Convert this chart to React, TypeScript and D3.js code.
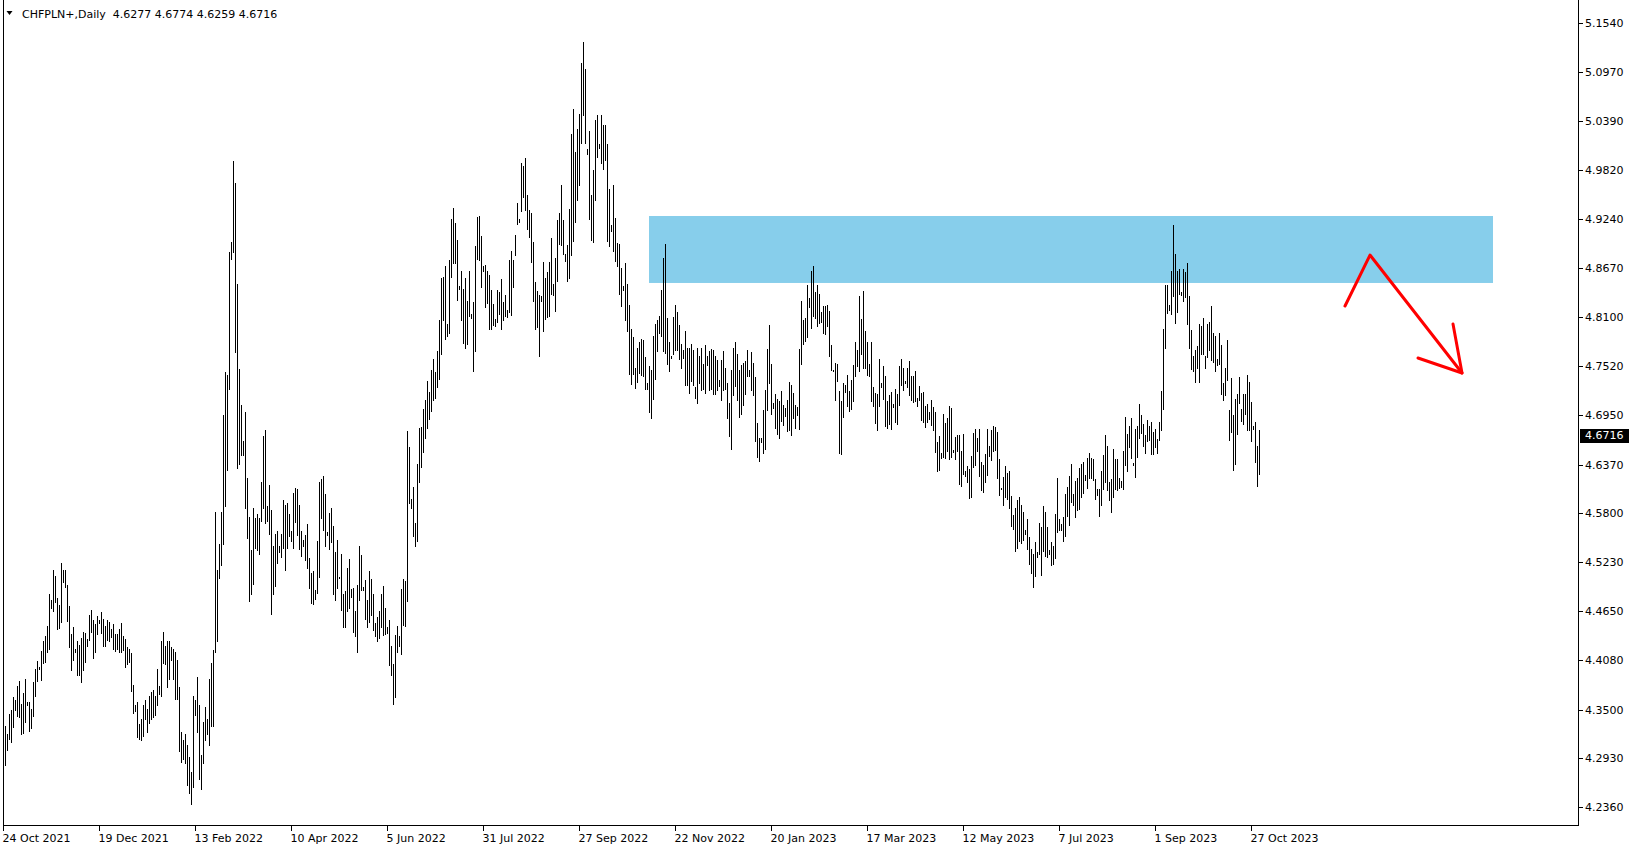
import * as d3 from "d3";

// CHFPLN+ daily bars, Oct 2021 - Nov 2023
const symbol = "CHFPLN+,Daily";
const lastQuote = [4.6277, 4.6774, 4.6259, 4.6716];

const priceTicks = [
  5.154, 5.097, 5.039, 4.982, 4.924, 4.867, 4.81, 4.752, 4.695,
  4.637, 4.58, 4.523, 4.465, 4.408, 4.35, 4.293, 4.236,
];

const dateLabels = [
  "24 Oct 2021", "19 Dec 2021", "13 Feb 2022", "10 Apr 2022", "5 Jun 2022",
  "31 Jul 2022", "27 Sep 2022", "22 Nov 2022", "20 Jan 2023", "17 Mar 2023",
  "12 May 2023", "7 Jul 2023", "1 Sep 2023", "27 Oct 2023",
];
const barsPerLabel = 48;

const highs = [
  4.314,4.331,4.322,4.345,4.350,4.365,4.361,4.378,4.384,4.357,
  4.370,4.386,4.359,4.359,4.351,4.382,4.398,4.407,4.400,4.419,
  4.430,4.436,4.448,4.485,4.478,4.513,4.507,4.481,4.473,4.522,
  4.513,4.513,4.496,4.471,4.439,4.447,4.421,4.430,4.426,4.434,
  4.441,4.440,4.433,4.461,4.467,4.455,4.450,4.460,4.455,4.464,
  4.456,4.448,4.455,4.453,4.444,4.450,4.439,4.439,4.445,4.452,
  4.436,4.433,4.423,4.421,4.416,4.379,4.355,4.359,4.333,4.339,
  4.356,4.361,4.351,4.366,4.371,4.373,4.366,4.398,4.378,4.430,
  4.441,4.425,4.430,4.430,4.423,4.421,4.418,4.408,4.376,4.324,
  4.314,4.321,4.309,4.294,4.277,4.366,4.361,4.388,4.356,4.297,
  4.336,4.353,4.339,4.386,4.405,4.420,4.581,4.514,4.544,4.581,
  4.695,4.745,4.742,4.886,4.898,4.992,4.967,4.848,4.749,4.707,
  4.665,4.698,4.621,4.576,4.537,4.586,4.574,4.579,4.574,4.616,
  4.670,4.678,4.589,4.613,4.584,4.542,4.556,4.559,4.542,4.556,
  4.595,4.590,4.592,4.579,4.559,4.604,4.609,4.608,4.590,4.559,
  4.549,4.555,4.567,4.527,4.510,4.512,4.490,4.548,4.616,4.620,
  4.623,4.602,4.558,4.580,4.586,4.565,4.534,4.549,4.505,4.532,
  4.485,4.489,4.516,4.526,4.491,4.493,4.465,4.496,4.542,4.531,
  4.494,4.502,4.478,4.512,4.503,4.485,4.452,4.458,4.466,4.485,
  4.495,4.469,4.447,4.455,4.425,4.404,4.437,4.448,4.436,4.491,
  4.503,4.501,4.676,4.657,4.597,4.611,4.568,4.638,4.680,4.681,
  4.702,4.712,4.735,4.722,4.748,4.760,4.745,4.770,
  4.806,4.856,4.857,4.869,4.802,4.877,4.925,4.937,4.920,4.900,
  4.846,4.864,4.843,4.856,4.829,4.864,4.813,4.827,4.893,4.927,
  4.928,4.905,4.870,4.871,4.864,4.859,4.841,4.825,4.807,4.841,
  4.839,4.854,4.827,4.835,4.818,4.877,4.887,4.876,4.906,4.943,
  4.925,4.990,4.987,4.996,4.953,4.935,4.932,4.898,4.851,4.840,
  4.835,4.834,4.874,4.856,4.862,4.874,4.902,4.848,4.879,4.923,
  4.931,4.964,4.923,
  4.884,4.894,4.936,5.024,5.053,5.003,5.030,5.047,5.107,5.132,
  5.100,5.006,5.028,4.953,4.982,5.040,5.046,5.012,5.046,5.034,
  5.034,5.012,4.960,4.917,4.964,4.926,4.896,4.895,4.867,4.846,
  4.873,4.848,4.824,4.796,4.786,4.750,4.774,4.781,4.784,4.783,
  4.763,4.732,4.752,4.748,4.787,4.801,4.806,4.811,4.841,4.879,
  4.895,4.808,4.781,4.764,4.810,4.824,4.816,4.800,4.778,4.771,
  4.793,4.773,4.773,4.778,4.771,4.728,4.773,4.764,4.773,4.755,
  4.777,4.764,4.770,4.772,4.771,4.764,4.759,4.736,4.759,4.770,
  4.750,4.732,4.709,4.748,4.773,4.780,4.767,4.748,4.753,4.756,
  4.758,4.771,4.748,4.769,4.756,4.739,4.686,4.668,4.668,4.701,
  4.724,4.772,4.800,4.755,4.709,4.720,4.714,4.711,4.723,4.707,
  4.703,4.713,4.734,4.730,4.721,4.707,4.704,4.772,4.828,4.806,
  4.808,4.847,4.832,4.864,4.869,4.839,4.847,4.837,4.816,4.823,
  4.823,4.824,4.817,4.777,4.748,4.756,4.755,4.723,4.711,4.732,
  4.730,4.742,4.723,4.736,4.754,4.781,4.771,4.834,4.807,4.840,
  4.793,4.780,4.755,4.780,4.728,4.721,4.720,4.761,4.733,4.752,
  4.741,4.711,4.718,4.722,4.708,4.725,4.720,4.752,4.761,4.750,
  4.735,4.750,4.758,4.741,4.741,4.747,4.715,4.729,4.721,4.722,
  4.706,4.708,4.699,4.713,4.704,4.699,4.663,4.670,4.651,4.696,
  4.686,4.692,4.706,4.703,4.654,4.669,4.672,4.672,4.653,4.673,
  4.629,4.635,4.632,4.647,4.674,4.679,4.668,4.679,4.640,4.636,
  4.649,
  4.679,4.659,4.677,4.682,4.681,4.675,4.643,4.610,4.622,4.635,
  4.627,4.629,4.600,4.578,4.586,4.595,4.599,4.590,4.581,4.560,
  4.573,4.552,4.538,4.532,4.546,4.535,4.569,4.564,4.588,4.581,
  4.564,4.537,4.546,4.542,4.579,4.621,4.573,4.567,4.575,4.603,
  4.611,4.624,4.638,4.603,4.618,4.621,4.633,4.638,4.640,4.625,
  4.645,4.651,4.645,4.644,4.620,4.608,4.608,4.629,4.648,4.672,
  4.659,4.617,4.620,4.655,4.644,4.643,4.621,4.618,4.653,4.693,
  4.673,4.682,4.691,4.639,4.679,4.682,4.708,4.695,4.685,4.672,
  4.689,4.682,4.687,4.675,4.679,4.667,4.687,4.723,4.796,4.847,
  4.847,4.824,4.864,4.917,4.883,4.864,4.866,4.839,4.866,4.862,
  4.873,4.834,4.794,4.764,4.771,4.776,4.802,4.799,4.808,4.764,
  4.802,4.804,4.823,4.791,4.787,4.761,4.791,4.777,4.733,4.750,
  4.783,4.701,4.738,4.695,4.714,4.720,4.739,4.702,4.720,4.720,
  4.742,4.734,4.710,4.682,4.687,4.659,4.6774,
];

const lows = [
  4.303,4.285,4.303,4.316,4.312,4.330,4.350,4.342,4.341,4.321,
  4.323,4.336,4.355,4.325,4.328,4.343,4.366,4.384,4.398,4.385,
  4.405,4.406,4.418,4.421,4.469,4.465,4.476,4.445,4.446,4.453,
  4.500,4.494,4.454,4.423,4.396,4.408,4.417,4.390,4.390,4.382,
  4.396,4.406,4.425,4.432,4.441,4.411,4.418,4.438,4.452,4.440,
  4.425,4.425,4.432,4.430,4.435,4.421,4.419,4.421,4.418,4.418,
  4.420,4.400,4.403,4.406,4.372,4.346,4.348,4.318,4.316,4.315,
  4.319,4.339,4.324,4.334,4.339,4.341,4.344,4.356,4.368,4.366,
  4.405,4.403,4.376,4.386,4.408,4.386,4.363,4.363,4.302,4.289,
  4.292,4.287,4.262,4.252,4.240,4.259,4.344,4.324,4.269,4.257,
  4.287,4.314,4.321,4.309,4.331,4.331,4.418,4.430,4.504,4.519,
  4.544,4.589,4.631,4.725,4.878,4.886,4.769,4.633,4.638,4.648,
  4.648,4.586,4.551,4.477,4.485,4.497,4.539,4.537,4.532,4.571,
  4.586,4.569,4.571,4.556,4.462,4.485,4.495,4.522,4.534,4.529,
  4.539,4.514,4.539,4.553,4.547,4.539,4.570,4.555,4.538,4.530,
  4.542,4.525,4.516,4.493,4.475,4.474,4.479,4.486,4.505,4.574,
  4.560,4.542,4.554,4.538,4.546,4.485,4.478,4.492,4.504,4.467,
  4.447,4.447,4.465,4.469,4.482,4.441,4.436,4.417,4.478,4.490,
  4.490,4.456,4.447,4.453,4.461,4.443,4.436,4.430,4.434,4.447,
  4.437,4.439,4.440,4.402,4.391,4.357,4.365,4.418,4.424,4.415,
  4.449,4.448,4.477,4.592,4.586,4.553,4.542,4.548,4.616,4.634,
  4.652,4.668,4.680,4.690,4.700,4.712,4.715,4.728,
  4.737,4.766,4.806,4.784,4.788,4.791,4.857,4.873,4.873,4.830,
  4.842,4.806,4.779,4.774,4.778,4.811,4.808,4.747,4.770,4.878,
  4.877,4.845,4.864,4.821,4.826,4.796,4.796,4.800,4.799,4.804,
  4.813,4.796,4.806,4.811,4.810,4.816,4.812,4.845,4.882,4.919,
  4.921,4.934,4.950,4.935,4.913,4.903,4.874,4.829,4.796,4.798,
  4.764,4.828,4.793,4.807,4.810,4.811,4.837,4.835,4.817,4.852,
  4.895,4.894,4.883,
  4.875,4.852,4.856,4.882,4.899,4.921,4.947,4.964,5.014,5.046,
  5.013,5.001,4.924,4.900,4.898,4.947,4.997,5.008,4.990,4.983,
  4.994,4.899,4.893,4.910,4.887,4.875,4.869,4.837,4.823,4.841,
  4.806,4.793,4.743,4.731,4.743,4.727,4.734,4.744,4.742,4.741,
  4.725,4.726,4.698,4.691,4.714,4.737,4.770,4.791,4.787,4.770,
  4.768,4.755,4.747,4.762,4.766,4.771,4.771,4.761,4.750,4.762,
  4.730,4.730,4.721,4.735,4.730,4.715,4.709,4.732,4.724,4.725,
  4.721,4.753,4.724,4.725,4.720,4.720,4.724,4.729,4.713,4.724,
  4.725,4.692,4.670,4.655,4.718,4.729,4.713,4.693,4.696,4.707,
  4.720,4.741,4.741,4.724,4.718,4.664,4.646,4.641,4.663,4.650,
  4.655,4.701,4.733,4.696,4.703,4.680,4.673,4.668,4.688,4.683,
  4.694,4.676,4.677,4.671,4.691,4.680,4.695,4.679,4.755,4.778,
  4.782,4.786,4.821,4.797,4.811,4.809,4.799,4.803,4.804,4.791,
  4.790,4.799,4.764,4.748,4.747,4.712,4.735,4.650,4.649,4.693,
  4.722,4.706,4.700,4.702,4.711,4.741,4.752,4.746,4.766,4.750,
  4.750,4.742,4.741,4.711,4.706,4.686,4.677,4.705,4.728,4.714,
  4.682,4.680,4.684,4.679,4.704,4.687,4.684,4.707,4.730,4.724,
  4.732,4.728,4.718,4.713,4.710,4.711,4.706,4.713,4.689,4.687,
  4.681,4.687,4.690,4.683,4.677,4.652,4.630,4.631,4.645,4.646,
  4.645,4.653,4.644,4.646,4.652,4.644,4.653,4.614,4.612,4.626,
  4.623,4.616,4.598,4.599,4.634,4.636,4.653,4.624,4.607,4.605,
  4.616,
  4.625,4.647,4.642,4.653,4.654,4.621,4.601,4.608,4.590,4.599,
  4.597,4.586,4.565,4.561,4.536,4.539,4.548,4.545,4.549,4.556,
  4.538,4.520,4.510,4.494,4.506,4.529,4.532,4.508,4.536,4.530,
  4.529,4.532,4.519,4.521,4.528,4.558,4.560,4.560,4.547,4.553,
  4.577,4.566,4.593,4.590,4.576,4.584,4.585,4.599,4.604,4.619,
  4.609,4.621,4.621,4.619,4.597,4.601,4.577,4.590,4.608,4.616,
  4.607,4.595,4.582,4.599,4.608,4.607,4.610,4.611,4.608,4.636,
  4.629,4.658,4.645,4.636,4.622,4.646,4.668,4.674,4.659,4.651,
  4.664,4.666,4.649,4.649,4.657,4.650,4.666,4.677,4.702,4.773,
  4.814,4.818,4.813,4.834,4.803,4.816,4.837,4.835,4.829,4.833,
  4.802,4.773,4.749,4.746,4.734,4.750,4.734,4.766,4.766,4.750,
  4.763,4.771,4.759,4.757,4.746,4.753,4.755,4.720,4.712,4.719,
  4.736,4.666,4.675,4.631,4.638,4.673,4.709,4.688,4.685,4.696,
  4.678,4.678,4.664,4.679,4.640,4.612,4.6259,
];

// resistance zone (bar index range, price range)
const zoneBars = [323, 745];
const zonePrices = [4.928, 4.8496];

// hand drawn arrow (bar index, price)
const arrowLine = [[670.75, 4.8226], [683.25, 4.8823], [729.25, 4.7442]];
const arrowHead = [[707.25, 4.7617], [729.25, 4.7442], [724.75, 4.8015]];

const width = 1635;
const height = 850;
const plotRight = 1578.5;
const plotBottom = 825.5;

export default function App() {
  const x = d3.scaleLinear().domain([0, 787]).range([3.5, 1577.5]);
  const y = d3.scaleLinear().domain([4.236, 5.154]).range([807, 23]);

  const line = d3.line<number[]>().x((d) => x(d[0])).y((d) => y(d[1]));
  const font = "'DejaVu Sans', sans-serif";

  return (
    <div style={{ position: "absolute", left: 0, top: 0 }}>
      <svg width={width} height={height} style={{ display: "block", background: "#fff" }}>
        <rect
          x={x(zoneBars[0]) - 0.5}
          y={y(zonePrices[0])}
          width={x(zoneBars[1]) - x(zoneBars[0])}
          height={y(zonePrices[1]) - y(zonePrices[0])}
          fill="#87CEEB"
        />

        <g fill="#000" shapeRendering="crispEdges">
          {highs.map((h, i) => {
            const top = Math.round(y(h));
            const bot = Math.round(y(lows[i]));
            return (
              <rect key={i} x={x(i) - 0.5} y={top} width={1} height={Math.max(1, bot - top + 1)} />
            );
          })}
        </g>

        <g fill="none" stroke="#ff0000" strokeWidth={3} strokeLinejoin="round" strokeLinecap="round">
          <path d={line(arrowLine) || ""} />
          <path d={line(arrowHead) || ""} />
        </g>

        {/* frame */}
        <g stroke="#000" strokeWidth={1} shapeRendering="crispEdges">
          <line x1={3.5} x2={3.5} y1={0} y2={plotBottom} />
          <line x1={3} x2={plotRight} y1={plotBottom} y2={plotBottom} />
          <line x1={plotRight} x2={plotRight} y1={0} y2={plotBottom + 0.5} />
        </g>

        {/* time axis */}
        <g fontFamily={font} fontSize={11} fill="#000">
          {dateLabels.map((lab, k) => {
            const px = x(k * barsPerLabel);
            return (
              <g key={lab}>
                <line x1={px} x2={px} y1={plotBottom} y2={plotBottom + 5} stroke="#000" shapeRendering="crispEdges" />
                <text x={px - 1} y={842}>{lab}</text>
              </g>
            );
          })}
        </g>

        {/* price axis */}
        <g fontFamily={font} fontSize={11} fill="#000">
          {priceTicks.map((v) => (
            <g key={v}>
              <line x1={plotRight} x2={plotRight + 4} y1={Math.round(y(v)) + 0.5} y2={Math.round(y(v)) + 0.5} stroke="#000" shapeRendering="crispEdges" />
              <text x={1585} y={y(v) + 4}>{v.toFixed(4)}</text>
            </g>
          ))}
          <rect x={1580} y={Math.round(y(lastQuote[3])) - 6} width={49} height={14} fill="#000" />
          <text x={1585} y={y(lastQuote[3]) + 4} fill="#fff">{lastQuote[3].toFixed(4)}</text>
        </g>

        {/* header */}
        <path d="M6.5,11 L12.5,11 L9.5,15 Z" fill="#000" />
        <text x={22} y={17.5} fontFamily={font} fontSize={11} fill="#000" style={{ whiteSpace: "pre" }}>
          {`${symbol}  ${lastQuote.map((q) => q.toFixed(4)).join(" ")}`}
        </text>
      </svg>
    </div>
  );
}
